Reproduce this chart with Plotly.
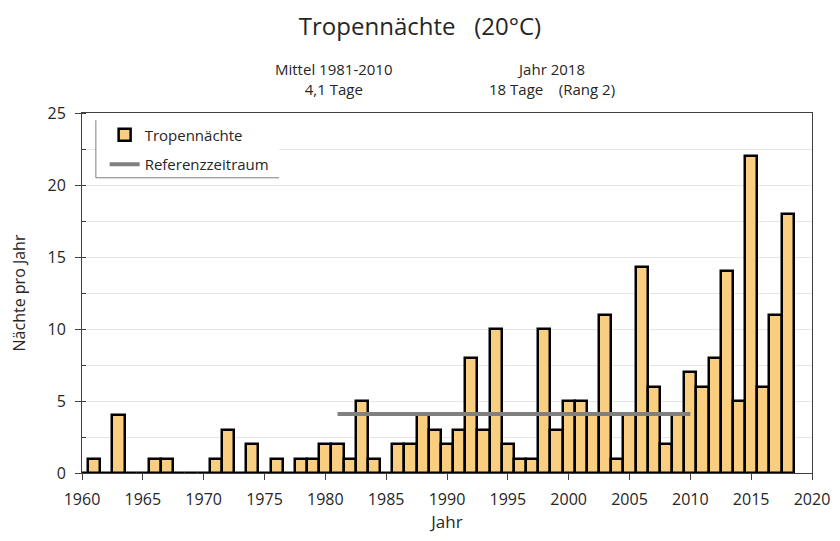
import plotly.graph_objects as go

# ── Data ──────────────────────────────────────────────────────────────────────
YEARS = list(range(1960, 2019))
NIGHTS = [
    0, 1, 0, 4, 0, 0, 1, 1, 0, 0,          # 1960-1969
    0, 1, 3, 0, 2, 0, 1, 0, 1, 1,          # 1970-1979
    2, 2, 1, 5, 1, 0, 2, 2, 4, 3,          # 1980-1989
    2, 3, 8, 3, 10, 2, 1, 1, 10, 3,        # 1990-1999
    5, 5, 4, 11, 1, 4, 14.3, 6, 2, 4,      # 2000-2009
    7, 6, 8, 14, 5, 22, 6, 11, 18,         # 2010-2018
]
REF_YEARS = [1981, 2010]
REF_MEAN = [4.1, 4.1]

X_TICKS = list(range(1960, 2021, 5))
Y_TICKS = list(range(0, 26, 5))

COLORS = {
    "bar":   "#F9CE80",
    "edge":  "#000000",
    "ref":   "#808080",
    "grid":  "#E6E6E6",
    "axis":  "#404040",
    "text":  "#262626",
}
FONT = "Open Sans, sans-serif"

fig = go.Figure()

fig.add_trace(go.Bar(
    x=YEARS,
    y=NIGHTS,
    width=1,
    marker=dict(color=COLORS["bar"], line=dict(color=COLORS["edge"], width=2.5)),
    name="Tropennächte",
    legendgroup="a",
))

fig.add_trace(go.Scatter(
    x=REF_YEARS,
    y=REF_MEAN,
    mode="lines",
    line=dict(color=COLORS["ref"], width=4),
    name="Referenzzeitraum",
    legendgroup="b",
))

# legend box: white fill, frame only on left and bottom edge
LX0, LX1, LY0, LY1 = 0.019, 0.27, 0.82, 0.98
fig.add_shape(type="rect", xref="paper", yref="paper", x0=LX0, y0=LY0, x1=LX1, y1=LY1,
              fillcolor="white", line=dict(width=0), layer="above")
for x0, y0, x1, y1 in [(LX0, LY1, LX0, LY0), (LX0, LY0, LX1, LY0)]:
    fig.add_shape(type="line", xref="paper", yref="paper", x0=x0, y0=y0, x1=x1, y1=y1,
                  line=dict(color="#7F7F7F", width=1), layer="above")

fig.add_annotation(text="Mittel 1981-2010<br>4,1 Tage", xref="paper", yref="paper",
                   x=0.262, y=1.033, yanchor="bottom", showarrow=False,
                   font=dict(size=15, color=COLORS["text"], family=FONT))
fig.add_annotation(text="Jahr 2018<br>18 Tage    (Rang 2)", xref="paper", yref="paper",
                   x=0.644, y=1.033, yanchor="bottom", showarrow=False,
                   font=dict(size=15, color=COLORS["text"], family=FONT))

# page body has an 8px margin, so the figure is 16px smaller than the window
fig.update_layout(
    width=824,
    height=525,
    paper_bgcolor="white",
    plot_bgcolor="white",
    font=dict(family=FONT, color=COLORS["text"], size=15),
    title=dict(text="Tropennächte   (20°C)", x=0.5, xanchor="center",
               y=0.9655, yanchor="middle",
               font=dict(size=24, color=COLORS["text"], family=FONT)),
    margin=dict(l=74, r=20, t=105, b=60),
    bargap=0,
    showlegend=True,
    legend=dict(
        x=0.031, y=0.985, xanchor="left", yanchor="top",
        bgcolor="rgba(0,0,0,0)",
        font=dict(size=15, color=COLORS["text"], family=FONT),
        tracegroupgap=7,
        itemwidth=30,
    ),
    xaxis=dict(
        title=dict(text="Jahr", font=dict(size=17), standoff=13),
        automargin=False,
        range=[1960, 2020],
        tickvals=X_TICKS,
        ticks="outside",
        ticklen=6,
        tickcolor=COLORS["axis"],
        ticklabelstandoff=6,
        showline=True,
        linecolor=COLORS["axis"],
        mirror=True,
        showgrid=False,
        zeroline=False,
        tickfont=dict(size=16),
    ),
    yaxis=dict(
        title=dict(text="Nächte pro Jahr", font=dict(size=16), standoff=18),
        automargin=False,
        range=[0, 25],
        tickvals=Y_TICKS,
        ticks="outside",
        ticklen=6,
        tickcolor=COLORS["axis"],
        ticklabelstandoff=6,
        showline=True,
        linecolor=COLORS["axis"],
        mirror=True,
        gridcolor=COLORS["grid"],
        zeroline=False,
        tickfont=dict(size=16),
        minor=dict(dtick=2.5, showgrid=True, gridcolor=COLORS["grid"],
                   ticks="inside", ticklen=4, tickcolor=COLORS["axis"]),
    ),
)

fig.write_html("out.html")
